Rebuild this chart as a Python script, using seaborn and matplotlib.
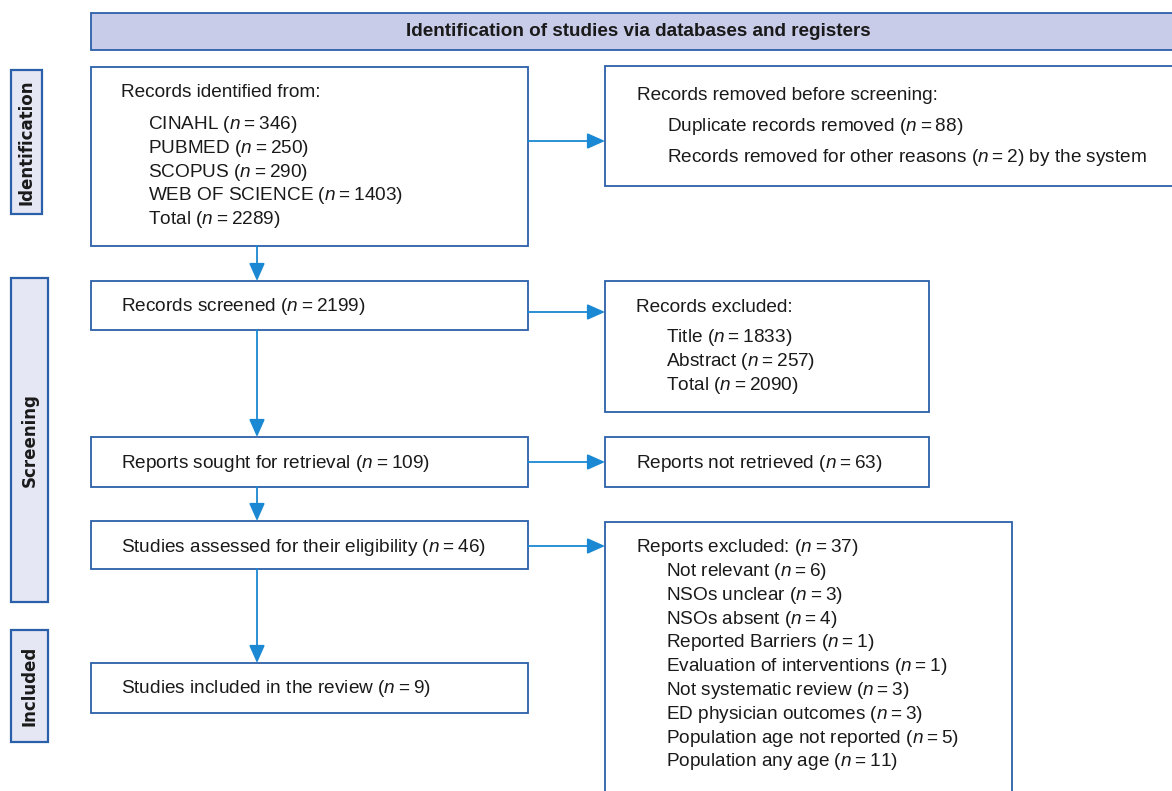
import matplotlib
matplotlib.use("Agg")
import matplotlib.pyplot as plt
from matplotlib.patches import Rectangle
import seaborn as sns

# counts
sources = ["CINAHL", "PUBMED", "SCOPUS", "WEB OF SCIENCE"]
source_n = [346, 250, 290, 1403]
identified_total = 2289
removed_labels = ["Duplicate records removed", "Records removed for other reasons"]
removed_n = [88, 2]
screened_n = 2199
excluded_labels = ["Title", "Abstract", "Total"]
excluded_n = [1833, 257, 2090]
sought_n = 109
not_retrieved_n = 63
assessed_n = 46
reason_labels = ["Not relevant", "NSOs unclear", "NSOs absent", "Reported Barriers",
                 "Evaluation of interventions", "Not systematic review",
                 "ED physician outcomes", "Population age not reported",
                 "Population any age"]
reason_n = [6, 3, 4, 1, 1, 3, 3, 5, 11]
reports_excluded_total = 37
included_n = 9
stages = ["Identification", "Screening", "Included"]

sns.set_theme(style="white")

body_font = "Liberation Sans"
plt.rcParams["font.family"] = [body_font, "DejaVu Sans"]
plt.rcParams["mathtext.fontset"] = "custom"
plt.rcParams["mathtext.it"] = body_font + ":italic"
plt.rcParams["mathtext.rm"] = body_font

EDGE = "#2b5fa9"
ARROW = "#1a88d2"
HEAD_FILL = "#c9cce8"
SIDE_FILL = "#e5e7f5"
TXT = "#1a1a1a"
FS = 13.7
LH = 23.8


def n(v):
    return "($n$\u2009=\u2009%d)" % v


fig = plt.figure(figsize=(11.72, 7.91), dpi=100)
ax = fig.add_axes([0, 0, 1, 1])
ax.set_xlim(0, 1172)
ax.set_ylim(791, 0)
ax.axis("off")


def box(x0, y0, x1, y1, fill="white", lw=1.3):
    ax.add_patch(Rectangle((x0, y0), x1 - x0, y1 - y0, facecolor=fill,
                           edgecolor=EDGE, lw=lw, clip_on=False))


def txt(x, y, s, **kw):
    # small nudge so the text sits like the original's
    ax.text(x, y + 1.5, s, fontsize=FS, color=TXT, va="center", ha="left", **kw)


def arrow(x0, y0, x1, y1):
    ax.annotate("", xy=(x1, y1), xytext=(x0, y0),
                arrowprops=dict(arrowstyle="-|>,head_length=0.9,head_width=0.4",
                                color=ARROW, lw=1.3, shrinkA=0, shrinkB=0,
                                mutation_scale=12))


# header
box(91, 13, 1175, 50, fill=HEAD_FILL)
ax.text(638, 32, "Identification of studies via databases and registers",
        fontsize=13.6, fontweight="bold", color=TXT, ha="center", va="center")

# stage labels on the left
side = [(11, 70, 42, 214), (11, 278, 48, 602), (11, 630, 48, 742)]
for (x0, y0, x1, y1), lab in zip(side, stages):
    box(x0, y0, x1, y1, fill=SIDE_FILL, lw=1.6)
    ax.text((x0 + x1) / 2, (y0 + y1) / 2, lab, rotation=90, fontsize=12,
            fontweight="bold", family="DejaVu Sans", color=TXT,
            ha="center", va="center")

# left column
box(91, 67, 528, 246)
txt(121, 91, "Records identified from:")
for i, (s, v) in enumerate(zip(sources + ["Total"], source_n + [identified_total])):
    txt(148, 123 + i * LH, "%s %s" % (s, n(v)))

box(91, 281, 528, 330)
txt(121, 305, "Records screened " + n(screened_n))
box(91, 437, 528, 487)
txt(121, 462, "Reports sought for retrieval " + n(sought_n))
box(91, 521, 528, 569)
txt(121, 546, "Studies assessed for their eligibility " + n(assessed_n))
box(91, 663, 528, 713)
txt(121, 687, "Studies included in the review " + n(included_n))

# right column
box(605, 66, 1175, 186)
txt(637, 94, "Records removed before screening:")
txt(667, 125, "%s %s" % (removed_labels[0], n(removed_n[0])))
txt(667, 156, "%s %s by the system" % (removed_labels[1], n(removed_n[1])))

box(605, 281, 929, 412)
txt(636, 306, "Records excluded:")
for i, (s, v) in enumerate(zip(excluded_labels, excluded_n)):
    txt(666, 336 + i * LH, "%s %s" % (s, n(v)))

box(605, 437, 929, 487)
txt(636, 462, "Reports not retrieved " + n(not_retrieved_n))

box(605, 522, 1012, 800)
txt(636, 546, "Reports excluded: " + n(reports_excluded_total))
for i, (s, v) in enumerate(zip(reason_labels, reason_n)):
    txt(666, 570 + i * LH, "%s %s" % (s, n(v)))

# arrows
arrow(528, 141, 605, 141)
arrow(528, 312, 605, 312)
arrow(528, 462, 605, 462)
arrow(528, 546, 605, 546)
arrow(257, 246, 257, 281)
arrow(257, 330, 257, 437)
arrow(257, 487, 257, 521)
arrow(257, 569, 257, 663)

fig.savefig("out.png", dpi=100)
